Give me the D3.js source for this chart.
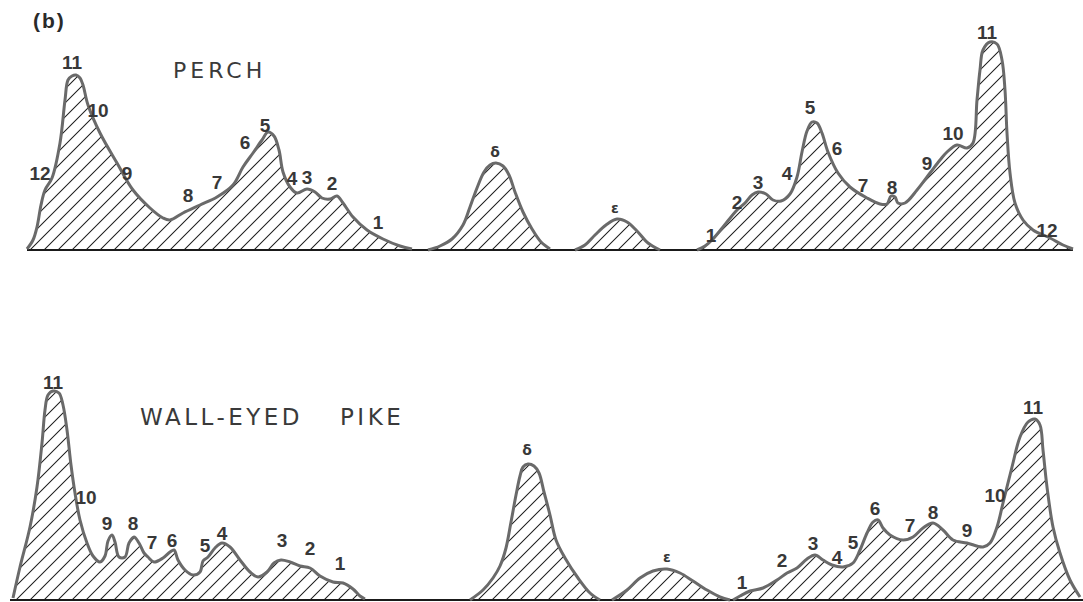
<!DOCTYPE html>
<html>
<head>
<meta charset="utf-8">
<script src="https://cdn.jsdelivr.net/npm/d3@7"></script>
<style>
  html, body { margin: 0; padding: 0; background: #fff; }
  svg { display: block; }
</style>
</head>
<body>
<svg id="chart" width="1083" height="602"></svg>
<script>
// Densitometer traces of serum protein bands (mobility, relative density).

// ---- PERCH ----
const perchAlbuminSide = [
  [2.7,0.5],[3.3,5],[3.7,11.5],[4.1,22.5],[4.5,30],[5.2,36],[6.0,53.5],[6.5,75],
  [6.8,85],[7.2,87],[7.6,87.5],[8.0,86],[8.3,82.5],[8.8,72.5],[10.0,58.5],[11.7,43.5],
  [13.3,30],[15.0,21],[16.3,16],[17.0,15],[18.3,18.5],[20.0,22.5],[21.7,26.5],[23.3,32.5],
  [24.3,41.5],[25.3,48.5],[26.2,55],[26.8,59],[27.4,57],[27.9,50],[28.3,39],[29.0,31.5],
  [29.7,28.5],[30.7,30.5],[31.5,29],[32.2,26],[33.0,25.5],[33.7,27],[34.3,23.5],[35.3,16.5],
  [36.7,10],[38.3,5.5],[40.0,2],[41.2,0.5]
];
const perchDelta = [
  [42.8,0],[44.0,2],[45.2,5.5],[46.3,12.5],[47.0,21.5],[47.7,31],[48.4,39],[49.0,42.5],
  [49.6,43.5],[50.3,42],[50.9,37.5],[51.5,29],[52.3,19],[53.2,10.5],[54.1,4],[55.0,0.5]
];
const perchEpsilon = [
  [57.5,0],[58.5,2.5],[59.5,7.5],[60.6,12.5],[61.7,15.5],[62.7,14],[63.7,9.5],[64.8,3.5],[66.0,0]
];
const perchCathodeSide = [
  [69.7,0],[70.5,2],[71.2,5],[72.3,11.5],[73.7,20],[74.5,23.5],[75.2,27.5],[75.8,29],
  [76.6,28],[77.3,25],[78.1,24.5],[79.0,28],[79.7,36.5],[80.2,49],[80.7,59.5],[81.2,64],
  [81.7,63.5],[82.2,58.5],[82.8,49],[83.8,38.5],[85.0,31.5],[86.7,26],[88.0,23],[88.7,23],
  [89.1,27],[89.5,26.5],[89.8,23.5],[90.5,23.5],[91.7,30],[93.0,38.5],[94.0,45],[94.7,49],
  [95.7,52.5],[96.7,51],[97.3,53.5],[97.7,75],[98.0,90],[98.3,100],[99.0,104],[99.7,103],
  [100.2,95],[100.5,80],[100.7,58.5],[101.0,38.5],[101.5,23.5],[102.3,15],[103.3,10],
  [105.0,6],[106.3,2.5],[107.3,0.5]
];
const perchBaseline = [2.7, 107.3];
const perchBandLabels = [
  ["11",7.2,94],["10",9.8,70],["12",4.0,38.5],["9",12.7,38.5],["8",18.8,27.5],["7",21.7,34],
  ["6",24.5,54],["5",26.5,62.5],["4",29.2,36],["3",30.7,36.5],["2",33.2,33.5],["1",37.8,14],
  ["δ",49.5,49],["ε",61.5,21],
  ["1",71.1,7.5],["2",73.7,24],["3",75.8,34],["4",78.7,38.5],["5",81.0,71.5],["6",83.7,51],
  ["7",86.3,32.5],["8",89.2,31.5],["9",92.7,43.5],["10",95.3,58.5],["11",98.7,109],["12",104.7,10]
];

// ---- WALL-EYED PIKE ----
const pikeAlbuminSide = [
  [1.3,1],[2.0,16.5],[3.0,36.5],[3.7,56.5],[4.2,78.5],[4.5,95],[4.8,102.5],[5.3,104.5],
  [5.9,103.5],[6.3,97.5],[6.7,85],[7.1,67.5],[7.5,53.5],[8.0,40],[8.7,28.5],[9.3,22],
  [10.0,19],[10.5,22],[10.8,29.5],[11.2,32.5],[11.5,29],[11.9,21.5],[12.5,21.5],[12.9,28.5],
  [13.4,31.5],[13.9,28.5],[14.4,23.5],[14.8,21.5],[15.4,19],[16.3,21],[17.0,24],[17.4,25],
  [17.8,20],[18.5,15],[19.3,12.5],[20.0,14],[20.3,19.5],[20.8,21.5],[21.5,26],[22.2,28.5],
  [23.0,26.5],[24.0,20],[25.0,14],[25.8,11.5],[26.7,14],[27.4,18.5],[28.1,20],[29.0,19],
  [30.0,17],[31.0,16],[32.0,12],[33.3,9],[34.3,8.5],[35.3,5.5],[36.0,2],[36.5,0.5]
];
const pikeDelta = [
  [47.0,0],[48.3,5],[49.3,11],[50.0,17],[50.6,26],[51.1,39],[51.6,52.5],[52.0,62],
  [52.3,66.5],[52.8,68],[53.4,67],[53.9,63.5],[54.4,54],[55.0,42.5],[55.6,30],[56.5,21],
  [57.8,11],[59.0,3.5],[60.0,0]
];
const pikeEpsilon = [
  [61.2,0],[62.7,5],[64.0,11],[65.3,14.5],[66.7,15.5],[68.0,13.5],[69.3,9.5],[70.7,5],[72.0,1.5],[73.0,0]
];
const pikeCathodeSide = [
  [73.3,0],[74.0,2],[75.0,4.5],[76.3,6],[77.7,10],[78.7,13.5],[79.7,16],[80.7,20.5],
  [81.5,22.5],[82.3,20],[83.2,17.5],[84.3,16.5],[85.3,18.5],[86.0,25],[86.7,33.5],[87.3,39],
  [87.8,40],[88.3,36],[89.0,32.5],[90.3,30],[91.3,31.5],[92.3,36],[93.3,38.5],[94.3,35],
  [95.3,30],[96.7,28.5],[98.3,26.5],[99.0,28.5],[99.7,36.5],[100.3,48.5],[101.2,66.5],
  [102.0,81.5],[102.8,89],[103.5,90.5],[104.0,87.5],[104.3,75],[104.7,56.5],[105.3,36.5],
  [106.0,23.5],[107.0,10],[108.0,1.5]
];
const pikeBaseline = [1.0, 108.3];
const pikeBandLabels = [
  ["11",5.3,109],["10",8.6,51.5],["9",10.7,38.5],["8",13.3,38.5],["7",15.2,29],["6",17.2,30],
  ["5",20.5,27.5],["4",22.2,33.5],["3",28.2,30],["2",31.0,26],["1",34.0,18.5],
  ["δ",52.7,75],["ε",66.7,21.5],
  ["1",74.2,9],["2",78.2,20],["3",81.3,28.5],["4",83.7,21.5],["5",85.3,29],["6",87.5,46],
  ["7",91.0,37.5],["8",93.3,44],["9",96.7,35],["10",99.5,52.5],["11",103.3,96.5]
];

const svg = d3.select("#chart");
const W = 1083;

svg.append("rect").attr("width", W).attr("height", 602).attr("fill", "#fff");

// diagonal hatching used to fill every trace
const defs = svg.append("defs");
const pat = defs.append("pattern")
  .attr("id", "hatch")
  .attr("patternUnits", "userSpaceOnUse")
  .attr("width", 14).attr("height", 14);
pat.append("rect").attr("width", 14).attr("height", 14).attr("fill", "#fff");
pat.append("path")
  .attr("d", "M-2,2 L2,-2 M0,14 L14,0 M12,16 L16,12")
  .attr("stroke", "#1e1e1e").attr("stroke-width", 1.05).attr("fill", "none");

const x = d3.scaleLinear().domain([0, 108.3]).range([0, 1083]);

const labelFont = "'Liberation Sans Narrow', 'Liberation Sans', Arial, sans-serif";

function drawPanel(base, segments, baseline, labels) {
  const y = d3.scaleLinear().domain([0, 105]).range([base, base - 210]);
  const g = svg.append("g");

  const curve = d3.curveCatmullRom.alpha(0.5);
  const area = d3.area().x(d => x(d[0])).y0(y(0)).y1(d => y(d[1])).curve(curve);
  const line = d3.line().x(d => x(d[0])).y(d => y(d[1])).curve(curve);

  g.selectAll("path.fill").data(segments).join("path")
    .attr("class", "fill")
    .attr("d", area)
    .attr("fill", "url(#hatch)");

  g.append("path")
    .attr("d", d3.line()([[x(baseline[0]), y(0)], [x(baseline[1]), y(0)]]))
    .attr("stroke", "#1a1a1a").attr("stroke-width", 1.8).attr("fill", "none");

  g.selectAll("path.trace").data(segments).join("path")
    .attr("class", "trace")
    .attr("d", line)
    .attr("fill", "none")
    .attr("stroke", "#6a6a6a")
    .attr("stroke-width", 3)
    .attr("stroke-linejoin", "round");

  g.selectAll("text.band").data(labels).join("text")
    .attr("class", "band")
    .attr("x", d => x(d[1]))
    .attr("y", d => y(d[2]))
    .attr("text-anchor", "middle")
    .attr("dominant-baseline", "central")
    .attr("font-family", d => (d[0] === "δ" || d[0] === "ε") ? "'DejaVu Sans', sans-serif" : labelFont)
    .attr("font-weight", "bold")
    .attr("font-size", d => (d[0] === "δ" || d[0] === "ε") ? 14 : 19)
    .attr("fill", "#383838")
    .text(d => d[0]);
}

drawPanel(250, [perchAlbuminSide, perchDelta, perchEpsilon, perchCathodeSide], perchBaseline, perchBandLabels);
drawPanel(600, [pikeAlbuminSide, pikeDelta, pikeEpsilon, pikeCathodeSide], pikeBaseline, pikeBandLabels);

// panel letter and species names
const titleFont = "'DejaVu Sans', sans-serif";
svg.append("text").attr("x", 33).attr("y", 28)
  .attr("font-family", "'Liberation Sans', Arial, sans-serif").attr("font-weight", "bold")
  .attr("font-size", 21).attr("fill", "#2a2a2a").attr("letter-spacing", 2).text("(b)");
svg.append("text").attr("x", 173).attr("y", 78)
  .attr("font-family", titleFont).attr("font-size", 22).attr("letter-spacing", 4)
  .attr("fill", "#3a3a3a").text("PERCH");
svg.append("text").attr("x", 140).attr("y", 425)
  .attr("font-family", titleFont).attr("font-size", 23).attr("letter-spacing", 3.5)
  .attr("fill", "#3a3a3a").text("WALL-EYED");
svg.append("text").attr("x", 340).attr("y", 425)
  .attr("font-family", titleFont).attr("font-size", 23).attr("letter-spacing", 3.5)
  .attr("fill", "#3a3a3a").text("PIKE");
</script>
</body>
</html>
